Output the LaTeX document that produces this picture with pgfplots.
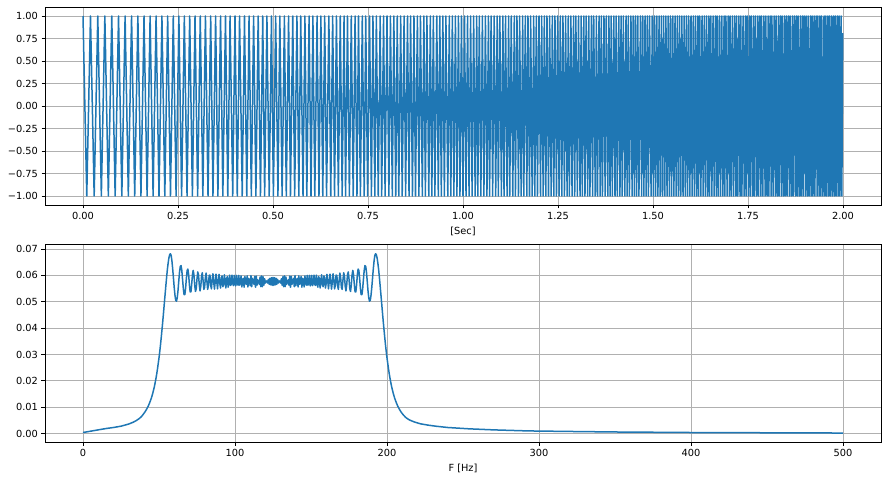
\documentclass[border=0pt]{standalone}
\usepackage{fontspec}
\setmainfont{DejaVu Sans}
\usepackage{pgfplots}
\pgfplotsset{compat=1.18}
\definecolor{mplblue}{RGB}{31,119,180}
\definecolor{mplgrid}{RGB}{176,176,176}
\pgfplotsset{
  mpl/.style={
    scale only axis, width=836pt, height=198pt,
    axis line style={black, line width=0.8pt},
    grid=major, major grid style={mplgrid, line width=0.8pt},
    tick align=outside, tick pos=left, major tick length=3.5pt,
    tick style={black, line width=0.8pt},
    tick label style={font=\fontsize{9.8}{11}\selectfont},
    scaled ticks=false,
    xlabel style={font=\fontsize{9.8}{11}\selectfont, at={(axis description cs:0.5,0)}, anchor=center, yshift=-26pt},
  },
  sig/.style={mplblue, line width=1.5pt, line join=round, mark=none},
}
\begin{document}
\begin{tikzpicture}
\useasboundingbox (0,0) rectangle (889pt,480pt);

% time signal (chirp, peaks and troughs)
\begin{axis}[mpl, at={(45pt,275pt)}, anchor=south west,
  xmin=-0.1, xmax=2.1, ymin=-1.1, ymax=1.1,
  xtick={0,0.25,0.5,0.75,1,1.25,1.5,1.75,2},
  xticklabels={0.00,0.25,0.50,0.75,1.00,1.25,1.50,1.75,2.00},
  ytick={-1,-0.75,-0.5,-0.25,0,0.25,0.5,0.75,1},
  yticklabels={−1.00,−0.75,−0.50,−0.25,0.00,0.25,0.50,0.75,1.00},
  xlabel={[Sec]}]
\addplot[sig] coordinates {
(0,1)(0.0099,-1)(0.0197,1)(0.0294,-1)(0.0389,1)(0.0483,-1)(0.0575,1)(0.0667,-1)(0.0757,1)(0.0846,-1)
(0.0935,1)(0.1022,-1)(0.1108,1)(0.1193,-1)(0.1278,1)(0.1361,-1)(0.1444,1)(0.1525,-1)(0.1606,1)(0.1687,-1)
(0.1766,1)(0.1845,-1)(0.1923,1)(0.2000,-1)(0.2077,1)(0.2153,-1)(0.2228,1)(0.2302,-1)(0.2376,1)(0.2450,-1)
(0.2523,1)(0.2595,-1)(0.2667,1)(0.2738,-1)(0.2808,1)(0.2879,-1)(0.2948,1)(0.3017,-1)(0.3086,1)(0.3154,-1)
(0.3222,1)(0.329,-1)(0.336,1)(0.342,-1)(0.349,1)(0.355,-1)(0.362,1)(0.368,-1)(0.375,1)(0.381,-1)
(0.387,1)(0.394,-1)(0.400,1)(0.406,-1)(0.412,1)(0.419,-1)(0.425,1)(0.431,-1)(0.437,1)(0.443,-1)
(0.449,1)(0.455,-1)(0.461,1)(0.467,-1)(0.473,1)(0.478,-1)(0.484,1)(0.490,-1)(0.496,1)(0.501,-1)
(0.507,1)(0.513,-1)(0.518,1)(0.524,-1)(0.530,1)(0.535,-1)(0.541,1)(0.546,-1)(0.552,1)(0.557,-1)
(0.563,1)(0.568,-1)(0.573,1)(0.579,-1)(0.584,1)(0.589,-1)(0.595,1)(0.600,-1)(0.605,1)(0.610,-1)
(0.616,1)(0.621,-1)(0.626,1)(0.631,-1)(0.636,1)(0.641,-1)(0.647,1)(0.652,-1)(0.657,1)(0.662,-1)
(0.667,1)(0.672,-1)(0.677,1)(0.682,-1)(0.687,1)(0.691,-1)(0.696,1)(0.701,-1)(0.706,1)(0.711,-1)
(0.716,1)(0.721,-1)(0.725,1)(0.730,-1)(0.735,1)(0.740,-1)(0.744,1)(0.749,-1)(0.754,1)(0.759,-1)
(0.763,1)(0.768,-1)(0.772,1)(0.777,-1)(0.782,1)(0.786,-1)(0.791,1)(0.795,-1)(0.800,1)(0.805,-1)
(0.809,1)(0.814,-1)(0.818,1)(0.823,-1)(0.827,1)(0.831,-1)(0.836,1)(0.840,-1)(0.845,1)(0.849,-1)
(0.854,1)(0.858,-1)(0.862,1)(0.867,-1)(0.871,1)(0.875,-1)(0.880,1)(0.884,-1)(0.888,1)(0.893,-1)
(0.897,1)(0.901,-1)(0.905,1)(0.910,-1)(0.914,1)(0.918,-1)(0.922,1)(0.926,-1)(0.931,1)(0.935,-1)
(0.939,1)(0.943,-1)(0.947,1)(0.951,-1)(0.955,1)(0.960,-1)(0.964,1)(0.968,-1)(0.972,1)(0.976,-1)
(0.980,1)(0.984,-1)(0.988,1)(0.992,-1)(0.996,1)(1.000,-1)(1.004,1)(1.008,-1)(1.012,1)(1.016,-1)
(1.020,1)(1.024,-1)(1.028,1)(1.032,-1)(1.036,1)(1.039,-1)(1.043,1)(1.047,-1)(1.051,1)(1.055,-1)
(1.059,1)(1.063,-1)(1.067,1)(1.070,-1)(1.074,1)(1.078,-1)(1.082,1)(1.086,-1)(1.090,1)(1.093,-1)
(1.097,1)(1.101,-1)(1.105,1)(1.108,-1)(1.112,1)(1.116,-1)(1.120,1)(1.123,-1)(1.127,1)(1.131,-1)
(1.135,1)(1.138,-1)(1.142,1)(1.146,-1)(1.149,1)(1.153,-1)(1.157,1)(1.160,-1)(1.164,1)(1.168,-1)
(1.171,1)(1.175,-1)(1.178,1)(1.182,-1)(1.186,1)(1.189,-1)(1.193,1)(1.196,-1)(1.200,1)(1.204,-1)
(1.207,1)(1.211,-1)(1.214,1)(1.218,-1)(1.221,1)(1.225,-1)(1.228,1)(1.232,-1)(1.235,1)(1.239,-1)
(1.242,1)(1.246,-1)(1.249,1)(1.253,-1)(1.256,1)(1.260,-1)(1.263,1)(1.267,-1)(1.270,1)(1.274,-1)
(1.277,1)(1.280,-1)(1.284,1)(1.287,-1)(1.291,1)(1.294,-1)(1.297,1)(1.301,-1)(1.304,1)(1.308,-1)
(1.311,1)(1.314,-1)(1.318,1)(1.321,-1)(1.324,1)(1.328,-1)(1.331,1)(1.334,-1)(1.338,1)(1.341,-1)
(1.344,1)(1.348,-1)(1.351,1)(1.354,-1)(1.358,1)(1.361,-1)(1.364,1)(1.367,-1)(1.371,1)(1.374,-1)
(1.377,1)(1.381,-1)(1.384,1)(1.387,-1)(1.390,1)(1.393,-1)(1.397,1)(1.400,-1)(1.403,1)(1.406,-1)
(1.410,1)(1.413,-1)(1.416,1)(1.419,-1)(1.422,1)(1.426,-1)(1.429,1)(1.432,-1)(1.435,1)(1.438,-1)
(1.442,1)(1.445,-1)(1.448,1)(1.451,-1)(1.454,1)(1.457,-1)(1.460,1)(1.463,-1)(1.467,1)(1.470,-1)
(1.473,1)(1.476,-1)(1.479,1)(1.482,-1)(1.485,1)(1.488,-1)(1.491,1)(1.495,-1)(1.498,1)(1.501,-1)
(1.504,1)(1.507,-1)(1.510,1)(1.513,-1)(1.516,1)(1.519,-1)(1.522,1)(1.525,-1)(1.528,1)(1.531,-1)
(1.534,1)(1.537,-1)(1.540,1)(1.543,-1)(1.546,1)(1.549,-1)(1.552,1)(1.555,-1)(1.558,1)(1.561,-1)
(1.564,1)(1.567,-1)(1.570,1)(1.573,-1)(1.576,1)(1.579,-1)(1.582,1)(1.585,-1)(1.588,1)(1.591,-1)
(1.594,1)(1.597,-1)(1.600,1)(1.603,-1)(1.606,1)(1.609,-1)(1.612,1)(1.615,-1)(1.618,1)(1.620,-1)
(1.623,1)(1.626,-1)(1.629,1)(1.632,-1)(1.635,1)(1.638,-1)(1.641,1)(1.644,-1)(1.647,1)(1.649,-1)
(1.652,1)(1.655,-1)(1.658,1)(1.661,-1)(1.664,1)(1.667,-1)(1.669,1)(1.672,-1)(1.675,1)(1.678,-1)
(1.681,1)(1.684,-1)(1.687,1)(1.689,-1)(1.692,1)(1.695,-1)(1.698,1)(1.701,-1)(1.703,1)(1.706,-1)
(1.709,1)(1.712,-1)(1.715,1)(1.718,-1)(1.720,1)(1.723,-1)(1.726,1)(1.729,-1)(1.731,1)(1.734,-1)
(1.737,1)(1.740,-1)(1.743,1)(1.745,-1)(1.748,1)(1.751,-1)(1.754,1)(1.756,-1)(1.759,1)(1.762,-1)
(1.765,1)(1.767,-1)(1.770,1)(1.773,-1)(1.776,1)(1.778,-1)(1.781,1)(1.784,-1)(1.786,1)(1.789,-1)
(1.792,1)(1.795,-1)(1.797,1)(1.800,-1)(1.803,1)(1.805,-1)(1.808,1)(1.811,-1)(1.813,1)(1.816,-1)
(1.819,1)(1.822,-1)(1.824,1)(1.827,-1)(1.830,1)(1.832,-1)(1.835,1)(1.838,-1)(1.840,1)(1.843,-1)
(1.846,1)(1.848,-1)(1.851,1)(1.853,-1)(1.856,1)(1.859,-1)(1.861,1)(1.864,-1)(1.867,1)(1.869,-1)
(1.872,1)(1.875,-1)(1.877,1)(1.880,-1)(1.882,1)(1.885,-1)(1.888,1)(1.890,-1)(1.893,1)(1.895,-1)
(1.898,1)(1.901,-1)(1.903,1)(1.906,-1)(1.908,1)(1.911,-1)(1.914,1)(1.916,-1)(1.919,1)(1.921,-1)
(1.924,1)(1.926,-1)(1.929,1)(1.932,-1)(1.934,1)(1.937,-1)(1.939,1)(1.942,-1)(1.944,1)(1.947,-1)
(1.950,1)(1.952,-1)(1.955,1)(1.957,-1)(1.960,1)(1.962,-1)(1.965,1)(1.967,-1)(1.970,1)(1.972,-1)
(1.975,1)(1.977,-1)(1.980,1)(1.982,-1)(1.985,1)(1.987,-1)(1.990,1)(1.992,-1)(1.995,1)(1.997,-1)
(1.999,0.81)
};
\end{axis}

% magnitude spectrum
\begin{axis}[mpl, at={(45pt,38pt)}, anchor=south west,
  xmin=-25, xmax=525, ymin=-0.0032, ymax=0.0719,
  xtick={0,100,200,300,400,500},
  xticklabels={0,100,200,300,400,500},
  ytick={0,0.01,0.02,0.03,0.04,0.05,0.06,0.07},
  yticklabels={0.00,0.01,0.02,0.03,0.04,0.05,0.06,0.07},
  xlabel={F [Hz]}]
\addplot[sig] coordinates {
(0,0.0004)(3,0.0007)(6,0.0010)(10,0.0014)(15,0.0019)(20,0.0023)(25,0.0028)(30,0.0036)(33,0.0043)(35,0.0049)
(37,0.0057)(38,0.0062)(39,0.0068)(40,0.0076)(41,0.0084)(42,0.0094)(43,0.0105)(44,0.0119)(45,0.0135)(46,0.0155)
(47,0.0179)(48,0.0209)(48.5,0.0226)(49,0.0245)(49.5,0.0266)(50,0.0287)(50.5,0.0311)(51,0.0337)(51.5,0.0366)(52,0.0396)
(52.5,0.0427)(53,0.0460)(53.5,0.0494)(54,0.0527)(54.5,0.0560)(55,0.0592)(55.5,0.0622)(56,0.0646)(56.5,0.0666)(57,0.0678)
(57.5,0.0682)(58,0.0676)(58.5,0.0655)(59,0.0625)(59.5,0.0590)(60,0.0555)(60.5,0.0525)(61,0.0506)(61.5,0.0502)(62,0.0515)
(62.5,0.0542)(63,0.0578)(63.5,0.0612)(64,0.0634)(64.5,0.0637)(65,0.0619)(65.5,0.0585)(66,0.0550)(66.5,0.0527)(67,0.0527)
(67.5,0.0551)(68,0.0588)(68.5,0.0618)(69,0.0624)(69.5,0.0602)(70,0.0565)(70.5,0.0537)(71,0.0537)(71.5,0.0565)(72,0.0602)
(72.5,0.0619)(73,0.0601)(73.5,0.0563)(74,0.0539)(74.5,0.0550)(75,0.0587)(75.5,0.0613)(76,0.0602)(76.5,0.0564)(77,0.0541)
(77.5,0.0559)(78,0.0598)(78.5,0.0610)(79,0.0581)(79.5,0.0547)(80,0.0554)(80.5,0.0592)(81,0.0609)(81.5,0.0579)(82,0.0547)
(82.5,0.0561)(83,0.0600)(83.5,0.0601)(84,0.0562)(84.5,0.0549)(85,0.0585)(85.5,0.0606)(86,0.0574)(86.5,0.0548)(87,0.0577)
(87.5,0.0605)(88,0.0577)(88.5,0.0549)(89,0.0580)(89.5,0.0604)(90,0.0570)(90.5,0.0552)(91,0.0590)(91.5,0.0598)(92,0.0557)
(92.5,0.0564)(93,0.0602)(93.5,0.0579)(94,0.0552)(94.5,0.0589)(95,0.0595)(95.5,0.0555)(96,0.0574)(96.5,0.0601)(97,0.0562)
(97.5,0.0565)(98,0.0601)(98.5,0.0569)(99,0.0561)(99.5,0.0600)(100,0.0571)(100.5,0.0560)(101,0.0600)(101.5,0.0569)(102,0.0563)
(102.5,0.0600)(103,0.0563)(103.5,0.0571)(104,0.0598)(104.5,0.0556)(105,0.0583)(105.5,0.0589)(106,0.0555)(106.5,0.0596)(107,0.0572)
(107.5,0.0566)(108,0.0598)(108.5,0.0556)(109,0.0588)(109.5,0.0580)(110,0.0561)(110.5,0.0599)(111,0.0557)(111.5,0.0589)(112,0.0577)
(112.5,0.0566)(113,0.0596)(113.5,0.0555)(114,0.0597)(114.5,0.0563)(115,0.0583)(115.5,0.0580)(116,0.0566)(116.5,0.0594)(117,0.0557)
(117.5,0.0598)(118,0.0557)(118.5,0.0595)(119,0.0563)(119.5,0.0587)(120,0.0571)(120.5,0.0578)(121,0.0579)(121.5,0.0571)(122,0.0585)
(122.5,0.0566)(123,0.0589)(123.5,0.0564)(124,0.0591)(124.5,0.0562)(125,0.0592)(125.5,0.0562)(126,0.0591)(126.5,0.0564)(127,0.0589)
(127.5,0.0566)(128,0.0585)(128.5,0.0571)(129,0.0579)(129.5,0.0578)(130,0.0571)(130.5,0.0587)(131,0.0563)(131.5,0.0595)(132,0.0557)
(132.5,0.0598)(133,0.0557)(133.5,0.0594)(134,0.0566)(134.5,0.0580)(135,0.0583)(135.5,0.0563)(136,0.0597)(136.5,0.0555)(137,0.0596)
(137.5,0.0566)(138,0.0577)(138.5,0.0589)(139,0.0557)(139.5,0.0599)(140,0.0561)(140.5,0.0580)(141,0.0588)(141.5,0.0556)(142,0.0598)
(142.5,0.0566)(143,0.0572)(143.5,0.0596)(144,0.0555)(144.5,0.0589)(145,0.0583)(145.5,0.0556)(146,0.0598)(146.5,0.0571)(147,0.0563)
(147.5,0.0600)(148,0.0563)(148.5,0.0569)(149,0.0600)(149.5,0.0560)(150,0.0571)(150.5,0.0600)(151,0.0561)(151.5,0.0569)(152,0.0601)
(152.5,0.0565)(153,0.0562)(153.5,0.0601)(154,0.0574)(154.5,0.0555)(155,0.0595)(155.5,0.0589)(156,0.0552)(156.5,0.0579)(157,0.0602)
(157.5,0.0564)(158,0.0557)(158.5,0.0598)(159,0.0590)(159.5,0.0552)(160,0.0570)(160.5,0.0604)(161,0.0580)(161.5,0.0549)(162,0.0577)
(162.5,0.0605)(163,0.0577)(163.5,0.0548)(164,0.0574)(164.5,0.0606)(165,0.0585)(165.5,0.0549)(166,0.0562)(166.5,0.0601)(167,0.0600)
(167.5,0.0561)(168,0.0547)(168.5,0.0579)(169,0.0609)(169.5,0.0592)(170,0.0554)(170.5,0.0547)(171,0.0581)(171.5,0.0610)(172,0.0598)
(172.5,0.0559)(173,0.0541)(173.5,0.0564)(174,0.0602)(174.5,0.0613)(175,0.0587)(175.5,0.0550)(176,0.0539)(176.5,0.0563)(177,0.0601)
(177.5,0.0619)(178,0.0602)(178.5,0.0565)(179,0.0537)(179.5,0.0537)(180,0.0565)(180.5,0.0602)(181,0.0624)(181.5,0.0618)(182,0.0588)
(182.5,0.0551)(183,0.0527)(183.5,0.0527)(184,0.0550)(184.5,0.0585)(185,0.0619)(185.5,0.0637)(186,0.0634)(186.5,0.0612)(187,0.0578)
(187.5,0.0542)(188,0.0515)(188.5,0.0502)(189,0.0506)(189.5,0.0525)(190,0.0555)(190.5,0.0590)(191,0.0625)(191.5,0.0655)(192,0.0676)
(192.5,0.0682)(193,0.0678)(193.5,0.0666)(194,0.0646)(194.5,0.0622)(195,0.0592)(195.5,0.0560)(196,0.0527)(196.5,0.0494)(197,0.0460)
(197.5,0.0427)(198,0.0396)(198.5,0.0366)(199,0.0337)(199.5,0.0311)(200,0.0287)(200.5,0.0266)(201,0.0245)(201.5,0.0226)(202,0.0209)
(203,0.0179)(204,0.0155)(205,0.0135)(206,0.0119)(207,0.0105)(208,0.0094)(209,0.0084)(210,0.0076)(211,0.0069)(212,0.0063)
(213,0.0058)(215,0.0051)(218,0.0044)(222,0.0037)(227,0.0032)(232,0.0028)(240,0.0023)(254,0.0018)(270,0.0014)(293,0.0010)
(320,0.0008)(350,0.0006)(400,0.0004)(450,0.0003)(500,0.0002)
};
\end{axis}
\end{tikzpicture}
\end{document}
